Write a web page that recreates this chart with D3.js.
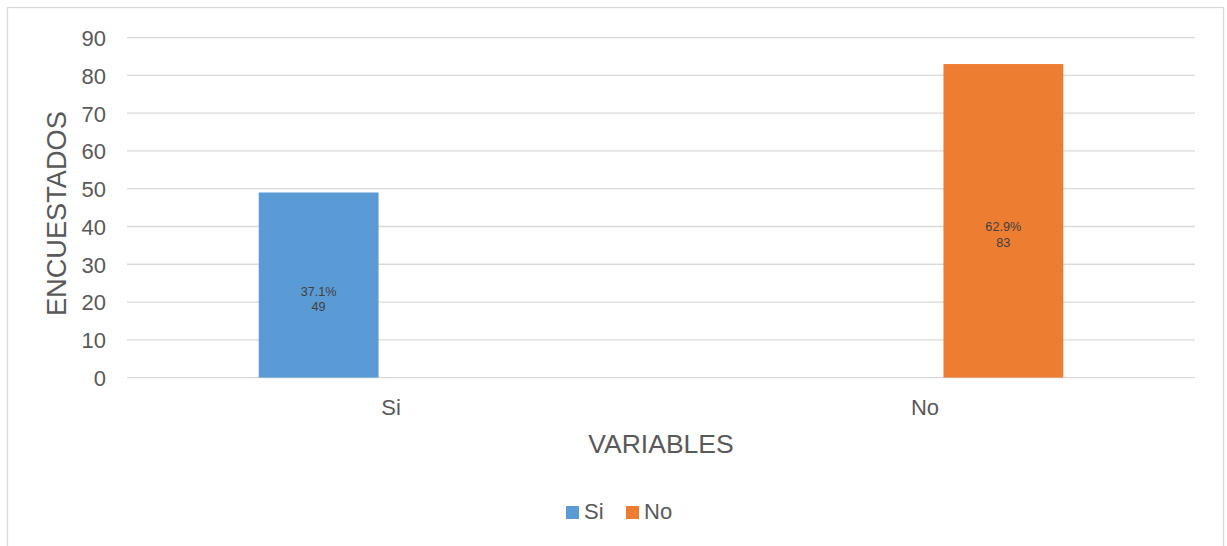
<!DOCTYPE html>
<html>
<head>
<meta charset="utf-8">
<script src="https://cdn.jsdelivr.net/npm/d3@7/dist/d3.min.js"></script>
<style>
  html, body { margin: 0; padding: 0; background: #fff; }
  svg { display: block; font-family: "Liberation Sans", Arial, sans-serif; }
</style>
</head>
<body>
<svg id="chart" width="1227" height="546"></svg>
<script>
// ---- data ----
const categories = ["Si", "No"];
const seriesNames = ["Si", "No"];
const seriesColors = ["#5b9bd5", "#ed7d31"];
// values per series, indexed by category
const siValues = [49, 0];
const noValues = [0, 83];
const percentLabels = ["37.1%", "62.9%"];
const yTicks = [0, 10, 20, 30, 40, 50, 60, 70, 80, 90];
const yTitle = "ENCUESTADOS";
const xTitle = "VARIABLES";

const svg = d3.select("#chart");

// outer frame
svg.append("rect")
  .attr("x", 7.5).attr("y", 7.5)
  .attr("width", 1216).attr("height", 560)
  .attr("fill", "#fff").attr("stroke", "#d9d9d9").attr("stroke-width", 1.3);

const plot = { left: 127, right: 1195, top: 37.6, bottom: 377.6 };

const x = d3.scaleBand().domain(categories).range([plot.left, plot.right]).padding(0);
const xs = d3.scaleBand().domain(seriesNames).range([0, x.bandwidth()])
  .paddingInner(0.205).paddingOuter(0.874);
const y = d3.scaleLinear().domain([0, 90]).range([plot.bottom, plot.top]);

// gridlines
svg.append("g").selectAll("line").data(yTicks).join("line")
  .attr("x1", plot.left).attr("x2", plot.right)
  .attr("y1", d => y(d)).attr("y2", d => y(d))
  .attr("stroke", "#d9d9d9").attr("stroke-width", 1.3);

// y axis labels
const yAxis = d3.axisLeft(y).tickValues(yTicks).tickSize(0).tickPadding(0);
const gy = svg.append("g").attr("transform", `translate(106,0)`).call(yAxis);
gy.select(".domain").remove();
gy.selectAll("text")
  .attr("font-size", 22).attr("fill", "#595959")
  .attr("font-family", "Liberation Sans, Arial, sans-serif")
  .attr("dy", "0.36em");

// x axis labels
const xAxis = d3.axisBottom(x).tickSize(0).tickPadding(0);
const gx = svg.append("g").attr("transform", `translate(-3,${plot.bottom})`).call(xAxis);
gx.select(".domain").remove();
gx.selectAll("text")
  .attr("font-size", 22).attr("fill", "#595959")
  .attr("font-family", "Liberation Sans, Arial, sans-serif")
  .attr("dy", null).attr("y", 37);

// bars
const seriesData = [siValues, noValues];
const barG = svg.append("g");
seriesData.forEach((vals, si) => {
  const sName = seriesNames[si];
  const data = categories.map((c, ci) => ({ c, v: vals[ci], ci }));
  barG.selectAll(null).data(data.filter(d => d.v > 0)).join("rect")
    .attr("x", d => x(d.c) + xs(sName))
    .attr("width", xs.bandwidth())
    .attr("y", d => y(d.v))
    .attr("height", d => y(0) - y(d.v))
    .attr("fill", seriesColors[si]);

  // data labels
  const lab = barG.selectAll(null).data(data.filter(d => d.v > 0)).join("text")
    .attr("text-anchor", "middle")
    .attr("font-size", 12.7)
    .attr("fill", "#404040")
    .attr("x", d => x(d.c) + xs(sName) + xs.bandwidth() / 2)
    .attr("y", d => (y(d.v) + y(0)) / 2 + 10.5);
  lab.append("tspan").text(d => percentLabels[d.ci]);
  lab.append("tspan")
    .attr("x", d => x(d.c) + xs(sName) + xs.bandwidth() / 2)
    .attr("dy", 15.5)
    .text(d => d.v);
});

// axis titles
svg.append("text")
  .attr("x", (plot.left + plot.right) / 2).attr("y", 453)
  .attr("text-anchor", "middle").attr("font-size", 26.5).attr("fill", "#595959")
  .text(xTitle);

svg.append("text")
  .attr("transform", `translate(66,${(plot.top + plot.bottom) / 2 + 6}) rotate(-90)`)
  .attr("text-anchor", "middle").attr("font-size", 27.2).attr("fill", "#595959")
  .text(yTitle);

// legend
const legendX = [566, 626];
const lg = svg.append("g");
seriesNames.forEach((s, i) => {
  lg.append("rect").attr("x", legendX[i]).attr("y", 506)
    .attr("width", 13).attr("height", 13).attr("fill", seriesColors[i]);
  lg.append("text").attr("x", legendX[i] + 18).attr("y", 519)
    .attr("font-size", 22).attr("fill", "#595959").text(s);
});
</script>
</body>
</html>
